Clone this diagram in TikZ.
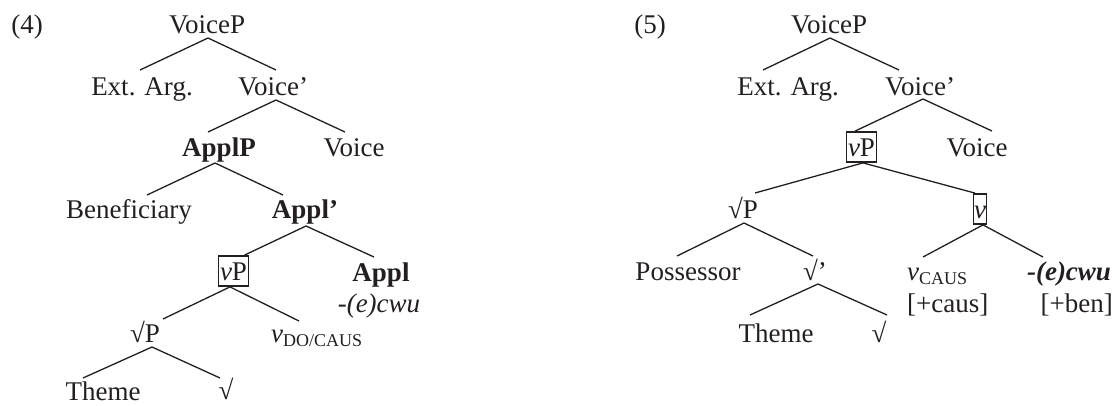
\documentclass[tikz,border=0pt]{standalone}
\usepackage{fontspec}
\setmainfont{Liberation Serif}
\definecolor{ink}{RGB}{35,31,32}
% lowered small-size subscript for the little v heads
\newcommand\lowsub[1]{\raisebox{-4pt}{\fontsize{18}{20}\selectfont #1}}
\begin{document}
\begin{tikzpicture}[x=1pt,y=-1pt,
  lbl/.style={anchor=base, inner sep=0pt, text=ink, font=\fontsize{27}{32}\selectfont},
  hd/.style={lbl, font=\fontsize{27}{32}\selectfont\bfseries},
  boxed/.style={lbl, draw=ink, line width=1.8pt, inner xsep=1.5pt, inner ysep=2pt,
                text height=22pt, text depth=4pt},
  branch/.style={draw=ink, line width=1.3pt}]
\useasboundingbox (0,0) rectangle (1116,405);

% ---------------- tree (4) ----------------
\node[lbl] (ex4) at (27,33) {(4)};
\node[lbl] (a4) at (207,33) {VoiceP};
\node[lbl] (b4) at (142,95) {Ext. Arg.};
\node[lbl] (c4) at (273,95) {Voice’};
\node[hd]  (d4) at (219,156) {ApplP};
\node[lbl] (e4) at (354,156) {Voice};
\node[lbl] (f4) at (129,218) {Beneficiary};
\node[hd]  (g4) at (305,218) {Appl’};
\node[boxed] (h4) at (233.5,280) {\itshape v\upshape P};
\node[hd]  (i4) at (381,281) {Appl};
\node[lbl] (j4) at (379,312) {\itshape -(e)cwu};
\node[lbl] (k4) at (145,342) {√P};
\node[lbl, anchor=base west] (l4) at (271,342) {\itshape v\upshape\lowsub{DO/CAUS}};
\node[lbl] (m4) at (103,400) {Theme};
\node[lbl] (n4) at (226,399) {√};

\draw[branch] ([xshift=1pt,yshift=-5pt]a4.base) -- ([xshift=-2pt,yshift=25pt]b4.base);
\draw[branch] ([xshift=1pt,yshift=-5pt]a4.base) -- ([xshift=3pt,yshift=25pt]c4.base);
\draw[branch] ([xshift=3pt,yshift=-5pt]c4.base) -- ([xshift=-11pt,yshift=24pt]d4.base);
\draw[branch] ([xshift=3pt,yshift=-5pt]c4.base) -- ([xshift=-9pt,yshift=24pt]e4.base);
\draw[branch] ([xshift=-4pt,yshift=-7pt]d4.base) -- ([xshift=18pt,yshift=23pt]f4.base);
\draw[branch] ([xshift=-4pt,yshift=-7pt]d4.base) -- ([xshift=-22pt,yshift=23pt]g4.base);
\draw[branch] ([xshift=1pt,yshift=-8pt]g4.base) -- ([xshift=11pt]h4.north);
\draw[branch] ([xshift=1pt,yshift=-8pt]g4.base) -- ([xshift=-7pt,yshift=24pt]i4.base);
\draw[branch] ([xshift=-3.5pt]h4.south) -- ([xshift=18pt,yshift=23pt]k4.base);
\draw[branch] ([xshift=-3.5pt]h4.south) -- ([xshift=28pt,yshift=21pt]l4.base west);
\draw[branch] ([xshift=7pt,yshift=-5pt]k4.base) -- ([xshift=-20pt,yshift=22pt]m4.base);
\draw[branch] ([xshift=7pt,yshift=-5pt]k4.base) -- ([xshift=-6pt,yshift=21pt]n4.base);

% ---------------- tree (5) ----------------
\node[lbl] (ex5) at (650,33) {(5)};
\node[lbl] (a5) at (829,33) {VoiceP};
\node[lbl] (b5) at (788,95) {Ext. Arg.};
\node[lbl] (c5) at (920,95) {Voice’};
\node[boxed] (d5) at (861.5,156) {\itshape v\upshape P};
\node[lbl] (e5) at (977,156) {Voice};
\node[lbl] (f5) at (743,218) {√P};
\node[boxed, inner xsep=0.5pt] (g5) at (980,218) {\itshape v};
\node[lbl] (h5) at (688,280) {Possessor};
\node[lbl] (i5) at (815,280) {√’};
\node[lbl, anchor=base west] (j5) at (907,280) {\itshape v\upshape\lowsub{CAUS}};
\node[lbl, anchor=base west] (k5) at (907,312) {[+caus]};
\node[lbl, font=\fontsize{27}{32}\selectfont\bfseries\itshape] (l5) at (1069,280) {-(e)cwu};
\node[lbl, anchor=base east] (m5) at (1113,312) {[+ben]};
\node[lbl] (n5) at (776,342) {Theme};
\node[lbl] (o5) at (879,342) {√};

\draw[branch] ([xshift=1pt,yshift=-5pt]a5.base) -- ([xshift=-25pt,yshift=25pt]b5.base);
\draw[branch] ([xshift=1pt,yshift=-5pt]a5.base) -- ([xshift=-21pt,yshift=25pt]c5.base);
\draw[branch] ([xshift=3pt,yshift=-4pt]c5.base) -- ([xshift=-6.5pt]d5.north);
\draw[branch] ([xshift=3pt,yshift=-4pt]c5.base) -- ([xshift=15pt,yshift=25pt]e5.base);
\draw[branch] ([xshift=1.5pt]d5.south) -- ([xshift=12pt,yshift=25pt]f5.base);
\draw[branch] ([xshift=1.5pt]d5.south) -- ([xshift=-5pt]g5.north);
\draw[branch] ([xshift=1pt,yshift=-5pt]f5.base) -- ([xshift=-11pt,yshift=24pt]h5.base);
\draw[branch] ([xshift=1pt,yshift=-5pt]f5.base) -- ([xshift=-2pt,yshift=24pt]i5.base);
\draw[branch] ([xshift=3pt]g5.south) -- ([xshift=16pt,yshift=23pt]j5.base west);
\draw[branch] ([xshift=3pt]g5.south) -- ([xshift=-26pt,yshift=23pt]l5.base);
\draw[branch] ([xshift=3pt,yshift=-4pt]i5.base) -- ([xshift=-26pt,yshift=27pt]n5.base);
\draw[branch] ([xshift=3pt,yshift=-4pt]i5.base) -- ([xshift=8pt,yshift=27pt]o5.base);
\end{tikzpicture}
\end{document}
